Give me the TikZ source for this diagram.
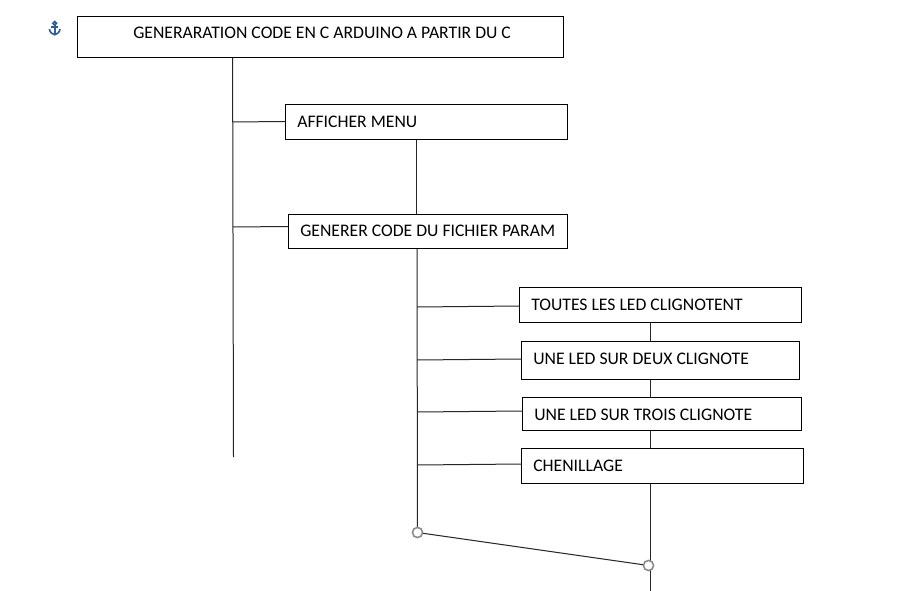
\documentclass[tikz,border=0pt]{standalone}
\usepackage{fontspec}
\setmainfont{Carlito}
\definecolor{anchorblue}{HTML}{2F5F94}
\tikzset{
 box/.style={draw=black,line width=0.75pt,fill=white,inner sep=0pt,outer sep=0pt,anchor=north west},
 lbl/.style={anchor=west,inner sep=0pt,font=\fontsize{13.25pt}{15pt}\selectfont},
 ln/.style={draw=black!85,line width=0.75pt},
 handle/.style={circle,draw=black!45,fill=white,line width=1.2pt,minimum size=7.6pt,inner sep=0pt}
}
\begin{document}
\begin{tikzpicture}[x=0.75pt,y=-0.75pt]
\useasboundingbox (0,0) rectangle (906,591);
\fill[white] (0,0) rectangle (906,591);
% anchor
\begin{scope}[draw=anchorblue,line width=1.25pt]
\draw (54.7,23.3) circle (1.8);
\draw (54.7,25) -- (54.7,34);
\draw (51.2,27.3)--(58.2,27.3);
\draw (49.4,29) .. controls (49.8,32.8) and (52.8,34.2) .. (54.7,34.8) .. controls (56.6,34.2) and (59.6,32.8) .. (60,29);
\end{scope}
% coordinates
\coordinate (t1) at (232.6,57);\coordinate (t1e) at (233.5,457);
\coordinate (j1) at (232.6,122);\coordinate (j2) at (233,227);
\coordinate (t2) at (416.5,139);\coordinate (t2m) at (416.5,214);
\coordinate (t3) at (417,248);\coordinate (h1) at (417.5,532.5);
\coordinate (h2) at (648.5,565.5);\coordinate (h2e) at (650.7,591);
\coordinate (k1) at (417,307);\coordinate (k2) at (417,360);\coordinate (k3) at (417,412);\coordinate (k4) at (417,465);
\coordinate (v1a) at (650.7,322);\coordinate (v1b) at (650.7,342);
\coordinate (v2a) at (650.7,379);\coordinate (v2b) at (650.7,398);
\coordinate (v3a) at (650.7,430);\coordinate (v3b) at (650.7,448);
\coordinate (v4a) at (650.7,483);
% connectors
\draw[ln] (t1) -- (t1e);
\draw[ln] (t2) -- (t2m);
\draw[ln] (t3) -- (h1);
\draw[ln] (v1a) -- (v1b);
\draw[ln] (v2a) -- (v2b);
\draw[ln] (v3a) -- (v3b);
\draw[ln] (v4a) -- (h2e);
\draw[ln] (h1) -- (h2);
% boxes
\node[box,minimum width=486*0.75pt,minimum height=41*0.75pt] (A) at (77.5,16.5) {};
\node[box,minimum width=282*0.75pt,minimum height=35*0.75pt] (B) at (285.5,104.5) {};
\node[box,minimum width=279*0.75pt,minimum height=34*0.75pt] (C) at (288.5,214.5) {};
\node[box,minimum width=282*0.75pt,minimum height=35*0.75pt] (D) at (519.5,287.5) {};
\node[box,minimum width=278*0.75pt,minimum height=38*0.75pt] (E) at (521.5,341.5) {};
\node[box,minimum width=279*0.75pt,minimum height=33*0.75pt] (F) at (522.5,397.5) {};
\node[box,minimum width=282*0.75pt,minimum height=35*0.75pt] (G) at (521.5,448.5) {};
% text
\node[lbl] (a) at (133,32.5) {GENERARATION CODE EN C ARDUINO A PARTIR DU C};
\node[lbl] (b) at (297,121.5) {AFFICHER MENU};
\node[lbl] (c) at (300,230.5) {GENERER CODE DU FICHIER PARAM};
\node[lbl] (d) at (531,304.5) {TOUTES LES LED CLIGNOTENT};
\node[lbl] (e) at (533,358.5) {UNE LED SUR DEUX CLIGNOTE};
\node[lbl] (f) at (534,414.5) {UNE LED SUR TROIS CLIGNOTE};
\node[lbl] (g) at (533,465.5) {CHENILLAGE};
% branches
\draw[ln] (j1) -- (285.5,121.5);
\draw[ln] (j2) -- (288.5,226.5);
\draw[ln] (k1) -- (519.5,306);
\draw[ln] (k2) -- (521.5,359);
\draw[ln] (k3) -- (522.5,411);
\draw[ln] (k4) -- (521.5,464);
\node[handle] (H1) at (h1) {};
\node[handle] (H2) at (h2) {};
\end{tikzpicture}
\end{document}
